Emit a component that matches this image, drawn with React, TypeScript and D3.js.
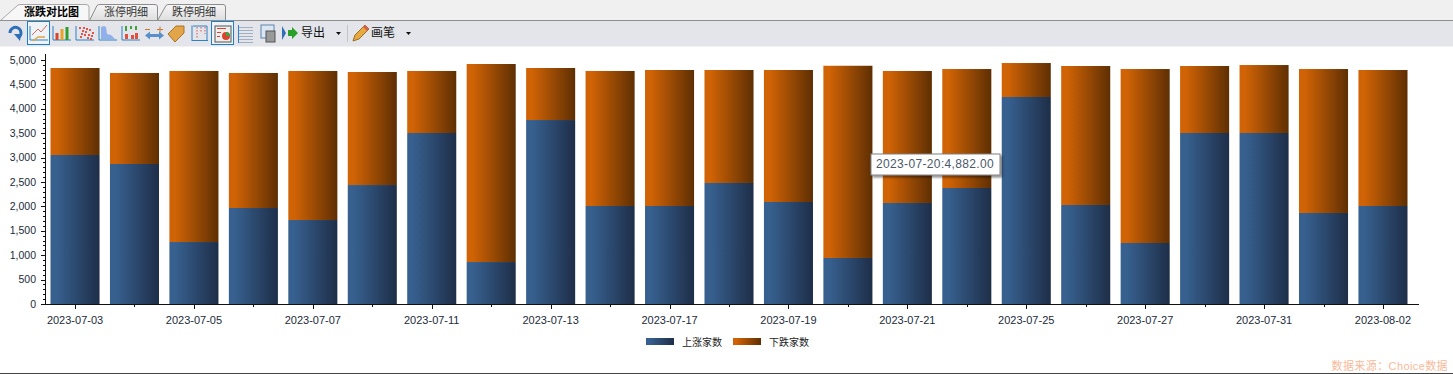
import React from "react";
import * as d3 from "d3";

const W = 1453, H = 374;
const dates = ["2023-07-03","2023-07-04","2023-07-05","2023-07-06","2023-07-07","2023-07-10","2023-07-11","2023-07-12","2023-07-13","2023-07-14","2023-07-17","2023-07-18","2023-07-19","2023-07-20","2023-07-21","2023-07-24","2023-07-25","2023-07-26","2023-07-27","2023-07-28","2023-07-31","2023-08-01","2023-08-02"];
const upCounts = [3053,2869,1270,1967,1721,2438,3504,860,3770,2008,2008,2480,2090,943,2070,2377,4242,2029,1250,3504,3504,1865,2008];
const totals = [4836,4734,4775,4734,4775,4754,4775,4918,4836,4775,4795,4795,4795,4882,4775,4815,4938,4877,4815,4877,4897,4815,4795];
const seriesNames = ["上涨家数","下跌家数"];
const yTicks = [0,500,1000,1500,2000,2500,3000,3500,4000,4500,5000];
const tabs = ["涨跌对比图","涨停明细","跌停明细"];
const tooltipText = "2023-07-20:4,882.00";
const sourceText = "数据来源：Choice数据";

const latin = "'Liberation Sans', Arial, sans-serif";
const cjk = "'Liberation Sans', 'Noto Sans CJK SC', sans-serif";

const x = d3.scaleBand<string>().domain(dates).range([45.3, 1412.7]).paddingInner(0.175).paddingOuter(0.0875);
const y = d3.scaleLinear().domain([0, 5000]).range([304, 60]);
const fmt = d3.format(",");
const minor = d3.range(0, 5001, 100);

const Stop = ({ a, b, id }: { a: string; b: string; id: string }) => (
  <linearGradient id={id} x1="0" x2="1" y1="0" y2="0">
    <stop offset="0" stopColor={a} />
    <stop offset="0.12" stopColor={a} />
    <stop offset="1" stopColor={b} />
  </linearGradient>
);

const Sel = ({ px }: { px: number }) => (
  <rect x={px} y={21.5} width={22} height={23} fill="#eef3f8" stroke="#1f7fc4" strokeWidth={1} />
);

function Toolbar() {
  const axis = (px: number) => `M${px} 26V40H${px + 18}`;
  return (
    <g>
      <rect x={0} y={0} width={W} height={21} fill="#f0f0f0" />
      <defs>
        <linearGradient id="tabG" x1="0" x2="0" y1="0" y2="1">
          <stop offset="0" stopColor="#f6f6f6" />
          <stop offset="1" stopColor="#dedede" />
        </linearGradient>
      </defs>
      <path d="M0.500 20.500L18 5Q19 4.500 21 4.500H86Q89 4.500 89 7V20.500" fill="#f7f7f7" stroke="#a8a8a8" />
      <path d="M89.500 20.500L97 5.500Q98 4.500 100 4.500H155Q157.500 4.500 157.500 7V20.500" fill="url(#tabG)" stroke="#8c8c8c" />
      <path d="M157.500 20.500L166 5.500Q167 4.500 169 4.500H223Q225.500 4.500 225.500 7V20.500" fill="url(#tabG)" stroke="#8c8c8c" />
      {tabs.map((t, i) => (
        <text key={t} x={[51.500, 126, 194][i]} y={16} textAnchor="middle" fontSize={11} fontWeight={i === 0 ? 700 : 400} fill={i === 0 ? "#000" : "#333"} fontFamily={cjk}>{t}</text>
      ))}
      <rect x={0} y={20.500} width={W} height={25.500} fill="#e3e5ea" />
      <line x1={0} x2={W} y1={20.500} y2={20.500} stroke="#8f8f8f" />
      <rect x={0} y={46} width={W} height={1} fill="#f2f2f2" />
      <path d="M10 33a5.500 5.500 0 1 1 8.500 4.500" fill="none" stroke="#2f6fb7" strokeWidth={3} />
      <path d="M14 34l7 0-1 7z" fill="#2f6fb7" />
      <Sel px={27.500} />
      <path d={axis(30)} fill="none" stroke="#2d82c4" />
      <path d="M32 35l6-6 3 3 6-7" fill="none" stroke="#d86b5c" />
      <path d="M33 41l5-4h7" fill="none" stroke="#e3a43c" strokeWidth={1.500} />
      <path d={axis(53)} fill="none" stroke="#2d82c4" />
      <rect x={55.500} y={33} width={3} height={7} fill="#d9442c" />
      <rect x={60.500} y={29} width={3} height={11} fill="#e9a228" />
      <rect x={65.500} y={27} width={3} height={13} fill="#2f9e2f" />
      <path d={axis(76)} fill="none" stroke="#2d82c4" />
      {[0,1,2,3,4,5,6,7,8,9,10,11,12,13].map((i) => (
        <rect key={i} x={79 + (i * 5) % 14} y={27 + (i * 7) % 12} width={2} height={2} fill="#d9574c" />
      ))}
      <path d="M99 26V40H117" fill="none" stroke="#2d82c4" />
      <path d="M101 39V27l3 -1 2 1 1 7 4 1 4 4z" fill="#8fb0ea" />
      <path d={axis(122)} fill="none" stroke="#2d82c4" />
      <rect x={125} y={34} width={3} height={5} fill="#e0503a" />
      <rect x={131} y={35} width={3} height={4} fill="#e0503a" />
      <rect x={135} y={33} width={3} height={6} fill="#e0503a" />
      <rect x={125} y={26} width={2} height={5} fill="#3da33a" />
      <rect x={130} y={26} width={2} height={3} fill="#3da33a" />
      <rect x={135} y={26} width={2} height={4} fill="#3da33a" />
      <path d="M148 35.500h13" stroke="#5b8fc9" strokeWidth={3} />
      <path d="M145 35.500l5-4v8zM164 35.500l-5-4v8z" fill="#5b8fc9" />
      <path d="M145 29.500h5M157 29.500h6M160 26.500v6" stroke="#c9772e" fill="none" />
      <path d="M168 34l8-8h8v7l-9 9z" fill="#e3a54a" stroke="#a87426" />
      <path d="M192 25.500V41M192 40.500H208M193 26H207V40" fill="none" stroke="#2d82c4" />
      <path d="M197 27v11M201 27v5M205 27v7" stroke="#d9574c" strokeDasharray="1.500 1.500" fill="none" />
      <Sel px={211.500} />
      <rect x={215} y={26} width={16} height={16} fill="#eeeeee" stroke="#555" />
      <path d="M217 28.500h9M217 32.500h4M217 36.500h3" stroke="#d9442c" />
      <circle cx={226} cy={36} r={4} fill="#d9442c" />
      <path d="M226 36v-4a4 4 0 0 1 4 4z" fill="#43a047" />
      {[27,30,33,36,39,42].map((v) => <line key={v} x1={239} x2={253} y1={v + 0.500} y2={v + 0.500} stroke="#9fb0c4" />)}
      <line x1={238.500} x2={238.500} y1={25} y2={43} stroke="#2d82c4" />
      <rect x={261} y={25} width={13} height={13} fill="#dbe6f2" stroke="#5d86ad" />
      <rect x={266} y={31} width={9} height={11} fill="#999" stroke="#555" />
      <path d="M282 26l4 7-4 7z" fill="#2f6fb7" />
      <path d="M288 30h4v-3l6 6-6 6v-3h-4z" fill="#2aa02a" />
      <text x={301} y={37} fontSize={12} fill="#111" fontFamily={cjk}>导出</text>
      <path d="M336 32h5l-2.500 3z" fill="#111" />
      <line x1={347.500} x2={347.500} y1={25} y2={42} stroke="#c4c4c4" />
      <path d="M353 41l2-6 10-10 4 4-10 10z" fill="#e8a93f" stroke="#96702a" />
      <path d="M365 25l4 4 -2 2 -4 -4z" fill="#d9604c" />
      <text x={371} y={37} fontSize={12} fill="#111" fontFamily={cjk}>画笔</text>
      <path d="M406 32h5l-2.500 3z" fill="#111" />
    </g>
  );
}

export default function App() {
  const bw = x.bandwidth();
  const tx = (d: string) => (x(d) as number) + bw / 2;
  return (
    <svg width={W} height={H} viewBox={`0 0 ${W} ${H}`} style={{ position: "fixed", left: 0, top: 0, display: "block", background: "#fff" }}>
      <defs>
        <Stop id="gUp" a="#37608f" b="#1e2e48" />
        <Stop id="gDown" a="#d06305" b="#5e2f03" />
        <filter id="sh" x="-10%" y="-20%" width="125%" height="150%">
          <feDropShadow dx="2" dy="2" stdDeviation="1.200" floodColor="#000" floodOpacity="0.45" />
        </filter>
      </defs>
      <Toolbar />
      {dates.map((d, i) => (
        <g key={d}>
          <rect x={x(d)} width={bw} y={y(totals[i])} height={y(upCounts[i]) - y(totals[i])} fill="url(#gDown)" />
          <rect x={x(d)} width={bw} y={y(upCounts[i])} height={y(0) - y(upCounts[i])} fill="url(#gUp)" />
        </g>
      ))}
      <line x1={45.500} x2={45.500} y1={54} y2={304.500} stroke="#111" />
      <line x1={42} x2={1419} y1={304.500} y2={304.500} stroke="#111" />
      {minor.map((v) => (
        <line key={v} x1={v % 500 === 0 ? 41 : 43} x2={45} y1={Math.round(y(v)) + 0.500} y2={Math.round(y(v)) + 0.500} stroke="#111" />
      ))}
      {yTicks.map((v) => (
        <text key={v} x={36} y={y(v) + 3.500} textAnchor="end" fontSize={10.500} fill="#1c2a3a" fontFamily={latin}>{fmt(v)}</text>
      ))}
      {dates.map((d, i) => (
        <g key={d}>
          <line x1={Math.round(tx(d)) + 0.500} x2={Math.round(tx(d)) + 0.500} y1={305} y2={i % 2 === 0 ? 309 : 307} stroke="#111" />
          {i % 2 === 0 && (
            <text x={tx(d)} y={324} textAnchor="middle" fontSize={11} fill="#1c2a3a" fontFamily={latin}>{d}</text>
          )}
        </g>
      ))}
      <rect x={646} y={338} width={28} height={7} fill="url(#gUp)" />
      <text x={682} y={346} fontSize={10} fill="#222" fontFamily={cjk}>{seriesNames[0]}</text>
      <rect x={733} y={338} width={28} height={7} fill="url(#gDown)" />
      <text x={769} y={346} fontSize={10} fill="#222" fontFamily={cjk}>{seriesNames[1]}</text>
      <text x={1448} y={370} textAnchor="end" fontSize={11} fill="#f8b99a" letterSpacing={0.4} fontFamily={cjk}>{sourceText}</text>
      <rect x={0} y={373} width={W} height={1} fill="#444" />
      <g>
        <rect x={871} y={154} width={129} height={21} fill="#fff" stroke="#808080" filter="url(#sh)" />
        <text x={876} y={168} fontSize={12} fill="#4a5868" letterSpacing={0.35} fontFamily={latin}>{tooltipText}</text>
      </g>
    </svg>
  );
}
